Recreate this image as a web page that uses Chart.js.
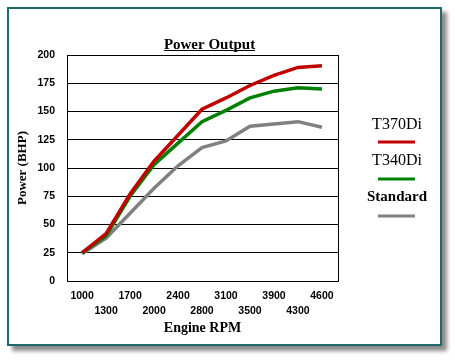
<!DOCTYPE html>
<html>
<head>
<meta charset="utf-8">
<script src="https://cdn.jsdelivr.net/npm/chart.js@4/dist/chart.umd.min.js"></script>
<style>
  html, body { margin: 0; padding: 0; background: #fff; }
  #frame {
    position: absolute; left: 7px; top: 7px; width: 431px; height: 335px;
    border: 2px solid #1c6a6a; background: #fff;
    box-shadow: 5px 5px 4px rgba(0, 0, 0, 0.45);
  }
  #wrap { position: absolute; left: 0; top: 0; width: 455px; height: 360px; }
</style>
</head>
<body>
<div id="frame"></div>
<div id="wrap"><canvas id="power-chart" width="455" height="360"></canvas></div>
<script>
// Engine speed categories (evenly spaced on the axis)
const rpmLabels = ['1000', '1300', '1700', '2000', '2400', '2800', '3100', '3500', '3900', '4300', '4600'];

// Power in BHP
const t370Values = [25, 42, 77, 106, 129, 152, 162, 173, 182, 189, 190.5];
const t340Values = [25, 40, 75, 103, 122, 141, 151, 162, 168, 171, 170];
const standardValues = [24, 38, 60, 82, 102, 118, 124, 137, 139, 141, 136];

const seriesNames = ['T370Di', 'T340Di', 'Standard'];

const SERIF = '"Liberation Serif", "Times New Roman", serif';
const SANS = '"Liberation Sans", Arial, sans-serif';

function toPoints(values) {
    return values.map((v, i) => ({ x: i, y: v }));
}

// Box around the plot area (right + top edges are not drawn by the scales)
const boxPlugin = {
    id: 'plotBox',
    beforeDatasetsDraw(chart) {
        const { ctx, chartArea: a } = chart;
        ctx.save();
        ctx.strokeStyle = '#000';
        ctx.lineWidth = 1;
        ctx.strokeRect(Math.round(a.left) + 0.5, Math.round(a.top) + 0.5,
            Math.round(a.right - a.left), Math.round(a.bottom - a.top));
        ctx.restore();
    }
};

// Underlined title + legend with text above a line sample
const decorPlugin = {
    id: 'decor',
    afterDraw(chart) {
        const ctx = chart.ctx;
        ctx.save();

        // title
        ctx.font = 'bold 15px ' + SERIF;
        ctx.fillStyle = '#000';
        ctx.textAlign = 'center';
        ctx.textBaseline = 'alphabetic';
        const title = 'Power Output';
        const tx = 209.5, ty = 49;
        ctx.fillText(title, tx, ty);
        const w = ctx.measureText(title).width;
        ctx.fillRect(Math.round(tx - w / 2), ty + 1, Math.round(w), 1);

        // legend
        const fonts = ['16px ' + SERIF, '16px ' + SERIF, 'bold 15px ' + SERIF];
        const textY = [125, 161, 197];
        const lineY = [142, 179, 216];
        const cx = 397;
        ctx.textBaseline = 'middle';
        chart.data.datasets.forEach((ds, i) => {
            ctx.font = fonts[i];
            ctx.fillStyle = '#000';
            ctx.fillText(ds.label, cx, textY[i]);
            ctx.fillStyle = ds.borderColor;
            ctx.fillRect(378, lineY[i] - 1.5, 37, 3);
        });
        ctx.restore();
    }
};

const ctx = document.getElementById('power-chart').getContext('2d');
new Chart(ctx, {
    type: 'line',
    data: {
        datasets: [
            { label: seriesNames[0], data: toPoints(t370Values), borderColor: '#c00000' },
            { label: seriesNames[1], data: toPoints(t340Values), borderColor: '#008000' },
            { label: seriesNames[2], data: toPoints(standardValues), borderColor: '#808080' }
        ]
    },
    options: {
        responsive: false,
        animation: false,
        devicePixelRatio: 1,
        layout: { padding: { left: 8, top: 55, right: 117, bottom: 23.6 } },
        elements: {
            line: { borderWidth: 3.5, tension: 0, fill: false },
            point: { radius: 0 }
        },
        plugins: {
            legend: { display: false },
            title: { display: false },
            tooltip: { enabled: false }
        },
        scales: {
            x: {
                type: 'linear',
                min: -0.63,
                max: 10.67,
                afterBuildTicks: (scale) => {
                    scale.ticks = rpmLabels.map((_, i) => ({ value: i }));
                },
                afterFit: (scale) => { scale.height = 55.4; },
                grid: { display: false, drawTicks: false },
                border: { display: true, color: '#000', width: 1 },
                ticks: {
                    autoSkip: false,
                    maxRotation: 0,
                    padding: 7,
                    color: '#000',
                    font: { family: SANS, size: 10.5, weight: 'bold', lineHeight: 1.48 },
                    callback: (v) => (v % 2 === 0 ? [rpmLabels[v], ''] : ['', rpmLabels[v]])
                },
                title: {
                    display: true,
                    text: 'Engine RPM',
                    color: '#000',
                    padding: 0,
                    font: { family: SERIF, size: 14, weight: 'bold' }
                }
            },
            y: {
                min: 0,
                max: 200,
                afterFit: (scale) => { scale.width = 59; },
                grid: { color: '#000', lineWidth: 1, drawTicks: false },
                border: { display: true, color: '#000', width: 1 },
                ticks: {
                    stepSize: 25,
                    padding: 12,
                    color: '#000',
                    font: { family: SANS, size: 10.5, weight: 'bold' }
                },
                title: {
                    display: true,
                    text: 'Power (BHP)',
                    color: '#000',
                    padding: { top: 7, bottom: 0 },
                    font: { family: SERIF, size: 13, weight: 'bold' }
                }
            }
        }
    },
    plugins: [boxPlugin, decorPlugin]
});
</script>
</body>
</html>
